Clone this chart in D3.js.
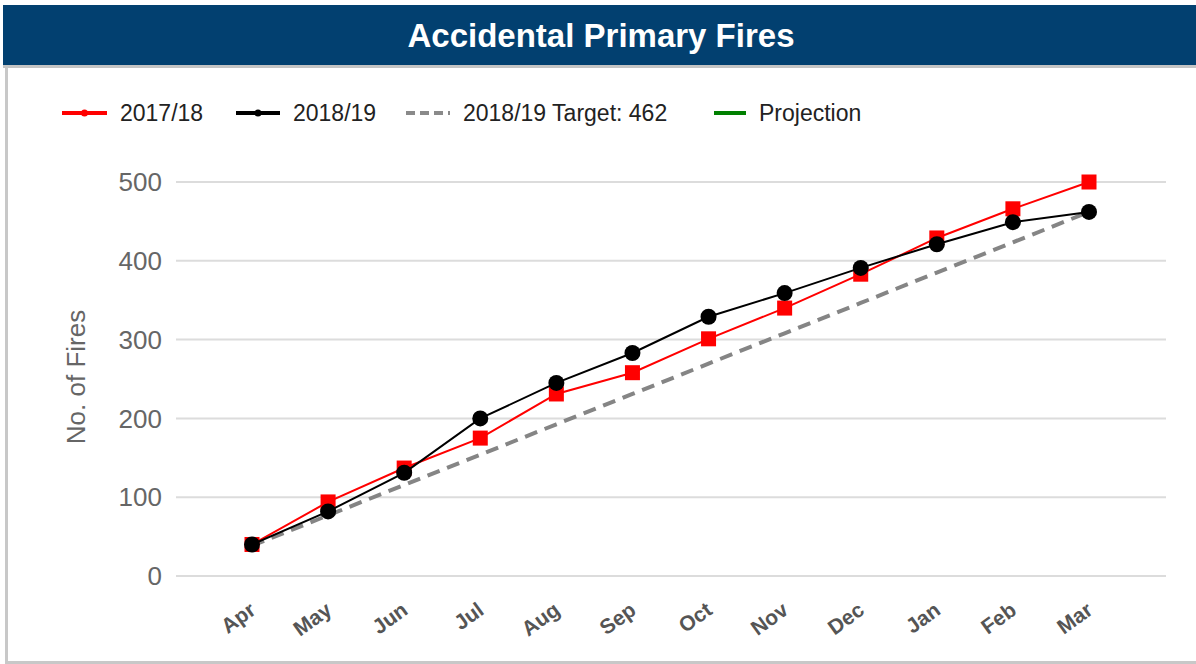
<!DOCTYPE html>
<html lang="en">
<head>
<meta charset="UTF-8">
<title>Accidental Primary Fires</title>
<style>
  body { margin: 0; background: #fff; }
  svg { display: block; font-family: "Liberation Sans", Arial, sans-serif; }
  .grid line { stroke: #dcdcdc; stroke-width: 2; }
  .ylab { fill: #666; font-size: 26px; text-anchor: end; }
  .xlab { fill: #555; font-size: 21px; font-weight: bold; text-anchor: end; }
  .legend text { fill: #222; font-size: 23px; }
</style>
</head>
<body>
<svg id="chart" width="1196" height="664"></svg>
<script src="https://d3js.org/d3.v7.min.js"></script>
<script>

// data
var months = ["Apr", "May", "Jun", "Jul", "Aug", "Sep", "Oct", "Nov", "Dec", "Jan", "Feb", "Mar"];
var fires1718 = [40, 94, 137, 175, 231, 258, 301, 340, 383, 429, 466, 500];
var fires1819 = [40, 82, 131, 200, 245, 283, 329, 359, 391, 421, 449, 462];
var target1819 = [38.5, 77, 115.5, 154, 192.5, 231, 269.5, 308, 346.5, 385, 423.5, 462];
var projection = []; // no projection drawn yet
var yTicks = [0, 100, 200, 300, 400, 500];

var svg = d3.select("#chart");

// header bar
svg.append("rect").attr("x", 3).attr("y", 5).attr("width", 1193).attr("height", 60).attr("fill", "#024070");
svg.append("rect").attr("x", 3).attr("y", 65).attr("width", 1193).attr("height", 3).attr("fill", "#c4c4c4");
svg.append("text")
    .attr("x", 601).attr("y", 47)
    .attr("text-anchor", "middle")
    .attr("fill", "#fff")
    .style("font-size", "33px").style("font-weight", "bold")
    .text("Accidental Primary Fires");

// panel borders
svg.append("rect").attr("x", 5).attr("y", 68).attr("width", 3).attr("height", 596).attr("fill", "#c8c8c8");
svg.append("rect").attr("x", 5).attr("y", 661).attr("width", 1191).attr("height", 3).attr("fill", "#c8c8c8");

var x = d3.scalePoint()
    .domain(months)
    .range([252, 1089]);

var y = d3.scaleLinear()
    .domain([0, 500])
    .range([576, 182]);

// gridlines
svg.append("g").attr("class", "grid")
    .selectAll("line")
    .data(yTicks)
    .enter().append("line")
    .attr("x1", 176).attr("x2", 1166)
    .attr("y1", function(d) { return y(d); })
    .attr("y2", function(d) { return y(d); });

svg.append("g")
    .selectAll("text")
    .data(yTicks)
    .enter().append("text")
    .attr("class", "ylab")
    .attr("x", 162)
    .attr("y", function(d) { return y(d); })
    .attr("dy", ".35em")
    .text(function(d) { return d; });

svg.append("text")
    .attr("transform", "translate(85,377) rotate(-90)")
    .attr("text-anchor", "middle")
    .attr("fill", "#666")
    .style("font-size", "26px")
    .text("No. of Fires");

// month labels, slanted
svg.append("g")
    .selectAll("text")
    .data(months)
    .enter().append("text")
    .attr("class", "xlab")
    .attr("transform", function(d) { return "translate(" + (x(d) + 5) + ",613) rotate(-36)"; })
    .text(function(d) { return d; });

var line = d3.line()
    .x(function(d, i) { return x(months[i]); })
    .y(function(d) { return y(d); });

svg.append("path")
    .datum(target1819)
    .attr("d", line)
    .attr("fill", "none")
    .attr("stroke", "#858585")
    .attr("stroke-width", 4)
    .attr("stroke-dasharray", "13,8");

svg.append("path")
    .datum(projection)
    .attr("d", projection.length ? line : null)
    .attr("fill", "none")
    .attr("stroke", "#008000")
    .attr("stroke-width", 3);

svg.append("path")
    .datum(fires1718)
    .attr("d", line)
    .attr("fill", "none")
    .attr("stroke", "#ff0000")
    .attr("stroke-width", 2);

svg.append("g")
    .selectAll("rect")
    .data(fires1718)
    .enter().append("rect")
    .attr("x", function(d, i) { return x(months[i]) - 7.5; })
    .attr("y", function(d) { return y(d) - 7.5; })
    .attr("width", 15).attr("height", 15)
    .attr("fill", "#ff0000");

svg.append("path")
    .datum(fires1819)
    .attr("d", line)
    .attr("fill", "none")
    .attr("stroke", "#000")
    .attr("stroke-width", 2);

svg.append("g")
    .selectAll("circle")
    .data(fires1819)
    .enter().append("circle")
    .attr("cx", function(d, i) { return x(months[i]); })
    .attr("cy", function(d) { return y(d); })
    .attr("r", 8)
    .attr("fill", "#000");

// legend
var legendItems = [
    { label: "2017/18", color: "#ff0000", dash: null, dot: true, x: 62, w: 45 },
    { label: "2018/19", color: "#000", dash: null, dot: true, x: 236, w: 44 },
    { label: "2018/19 Target: 462", color: "#8a8a8a", dash: "9,5", dot: false, x: 406, w: 44 },
    { label: "Projection", color: "#008000", dash: null, dot: false, x: 714, w: 32 }
];

var lg = svg.append("g").attr("class", "legend")
    .selectAll("g")
    .data(legendItems)
    .enter().append("g")
    .attr("transform", function(d) { return "translate(" + d.x + ",113)"; });

lg.append("line")
    .attr("x1", 0)
    .attr("x2", function(d) { return d.w; })
    .attr("stroke", function(d) { return d.color; })
    .attr("stroke-width", 4)
    .attr("stroke-dasharray", function(d) { return d.dash; });

lg.filter(function(d) { return d.dot; })
    .append("circle")
    .attr("cx", function(d) { return d.w / 2; })
    .attr("r", 3.5)
    .attr("fill", function(d) { return d.color; });

lg.append("text")
    .attr("x", function(d) { return d.w + 13; })
    .attr("dy", ".35em")
    .text(function(d) { return d.label; });

</script>
</body>
</html>
